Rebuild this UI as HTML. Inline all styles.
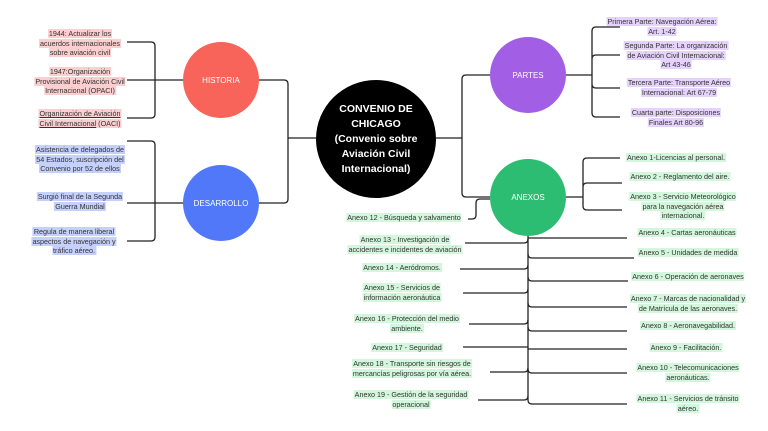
<!DOCTYPE html>
<html><head><meta charset="utf-8"><style>
body{margin:0;width:768px;height:431px;background:#fff;position:relative;overflow:hidden;font-family:"Liberation Sans",sans-serif}
.c{position:absolute;border-radius:50%;display:flex;align-items:center;justify-content:center;text-align:center;color:#fff}
.l{position:absolute;font-size:7.2px;line-height:9.5px;text-align:center;color:#333;transform:translateX(-50%);white-space:nowrap}
.l span{padding:0 1px;-webkit-box-decoration-break:clone;box-decoration-break:clone}
.p span{background:#fbcfcf}.b span{background:#c5d0fb}.v span{background:#e5d3fb}.g span{background:#d3f6dc}
svg{position:absolute;left:0;top:0}
</style></head><body>
<svg width="768" height="431" fill="none" stroke="#222" stroke-width="1.3">
<path d="M316 138H288M288 84V199M288 84Q288 80 284 80H259M288 199Q288 203 284 203H259"/>
<path d="M436 138H462M462 79V193M462 79Q462 75 466 75H490M462 193Q462 197 466 197H490"/>
<path d="M183 80H155M155 46V114M155 46Q155 42 151 42H127M155 80H127M155 114Q155 118 151 118H127"/>
<path d="M183 203H155M155 145V237M155 145Q155 141 151 141H127M155 203H127M155 237Q155 241 151 241H127"/>
<path d="M566 75H592M592 31V113M592 31Q592 27 596 27H620M592 59Q592 55 596 55H620M592 84Q592 88 596 88H620M592 113Q592 117 596 117H620"/>
<path d="M566 197H583M583 162V206M583 162Q583 158 587 158H620M583 187Q583 183 587 183H622M583 206Q583 210 587 210H622"/>
<path d="M468 219H472Q476 219 476 215V203Q476 199 480 199H490"/>
<path d="M528 236V400Q528 404 532 404H627"/>
<path d="M528 238H627M528 254Q528 258 532 258H634M528 277Q528 281 532 281H628M528 303Q528 307 532 307H627M528 327Q528 331 532 331H627M528 349H627M528 369Q528 373 532 373H627"/>
<path d="M465 243H524Q528 243 528 239M460 269H524Q528 269 528 265M463 293H524Q528 293 528 289M469 324H524Q528 324 528 320M463 347H528M490 372H524Q528 372 528 368M478 400H524Q528 400 528 396"/>
</svg>
<div class="c" style="left:316px;top:80px;width:120px;height:118px;background:#000;font-size:10.5px;font-weight:bold;line-height:15px">CONVENIO DE<br>CHICAGO<br>(Convenio sobre<br>Aviación Civil<br>Internacional)</div>
<div class="c" style="left:183px;top:42px;width:76px;height:76px;background:#f8635a;font-size:8px">HISTORIA</div>
<div class="c" style="left:183px;top:165px;width:76px;height:76px;background:#5078f8;font-size:8px">DESARROLLO</div>
<div class="c" style="left:490px;top:37px;width:76px;height:76px;background:#a35ee6;font-size:8px">PARTES</div>
<div class="c" style="left:490px;top:159px;width:76px;height:77px;background:#2dbd72;font-size:8px">ANEXOS</div>

<div class="l p" style="left:80px;top:29px"><span>1944: Actualizar los<br>acuerdos internacionales<br>sobre aviación civil</span></div>
<div class="l p" style="left:80px;top:67px"><span>1947:Organización<br>Provisional de Aviación Civil<br>Internacional (OPACI)</span></div>
<div class="l p" style="left:80px;top:109px"><span><u>Organización de Aviación<br>Civil Internacional</u> (OACI)</span></div>
<div class="l b" style="left:80px;top:145px"><span>Asistencia de delegados de<br>54 Estados, suscripción del<br>Convenio por 52 de ellos</span></div>
<div class="l b" style="left:80px;top:192px"><span>Surgió final de la Segunda<br>Guerra Mundial</span></div>
<div class="l b" style="left:74px;top:227px"><span>Regula de manera liberal<br>aspectos de navegación y<br>tráfico aéreo.</span></div>

<div class="l v" style="left:662px;top:17px"><span>Primera Parte: Navegación Aérea:<br>Art. 1-42</span></div>
<div class="l v" style="left:676px;top:41px"><span>Segunda Parte: La organización<br>de Aviación Civil Internacional:<br>Art 43-46</span></div>
<div class="l v" style="left:679px;top:78px"><span>Tercera Parte: Transporte Aéreo<br>Internacional: Art 67-79</span></div>
<div class="l v" style="left:676px;top:108px"><span>Cuarta parte: Disposiciones<br>Finales Art 80-96</span></div>

<div class="l g" style="left:676px;top:153px"><span>Anexo 1-Licencias al personal.</span></div>
<div class="l g" style="left:680px;top:172px"><span>Anexo 2 - Reglamento del aire.</span></div>
<div class="l g" style="left:683px;top:192px"><span>Anexo 3 - Servicio Meteorológico<br>para la navegación aérea<br>internacional.</span></div>
<div class="l g" style="left:687px;top:228px"><span>Anexo 4 - Cartas aeronáuticas</span></div>
<div class="l g" style="left:688px;top:248px"><span>Anexo 5 - Unidades de medida</span></div>
<div class="l g" style="left:688px;top:272px"><span>Anexo 6 - Operación de aeronaves</span></div>
<div class="l g" style="left:688px;top:294px"><span>Anexo 7 - Marcas de nacionalidad y<br>de Matrícula de las aeronaves.</span></div>
<div class="l g" style="left:688px;top:321px"><span>Anexo 8 - Aeronavegabilidad.</span></div>
<div class="l g" style="left:686px;top:343px"><span>Anexo 9 - Facilitación.</span></div>
<div class="l g" style="left:688px;top:363px"><span>Anexo 10 - Telecomunicaciones<br>aeronáuticas.</span></div>
<div class="l g" style="left:688px;top:394px"><span>Anexo 11 - Servicios de tránsito<br>aéreo.</span></div>

<div class="l g" style="left:404px;top:213px"><span>Anexo 12 - Búsqueda y salvamento</span></div>
<div class="l g" style="left:405px;top:235px"><span>Anexo 13 - Investigación de<br>accidentes e incidentes de aviación</span></div>
<div class="l g" style="left:402px;top:263px"><span>Anexo 14 - Aeródromos.</span></div>
<div class="l g" style="left:402px;top:283px"><span>Anexo 15 - Servicios de<br>información aeronáutica</span></div>
<div class="l g" style="left:407px;top:314px"><span>Anexo 16 - Protección del medio<br>ambiente.</span></div>
<div class="l g" style="left:407px;top:343px"><span>Anexo 17 - Seguridad</span></div>
<div class="l g" style="left:412px;top:359px"><span>Anexo 18 - Transporte sin riesgos de<br>mercancías peligrosas por vía aérea.</span></div>
<div class="l g" style="left:411px;top:390px"><span>Anexo 19 - Gestión de la seguridad<br>operacional</span></div>
</body></html>
